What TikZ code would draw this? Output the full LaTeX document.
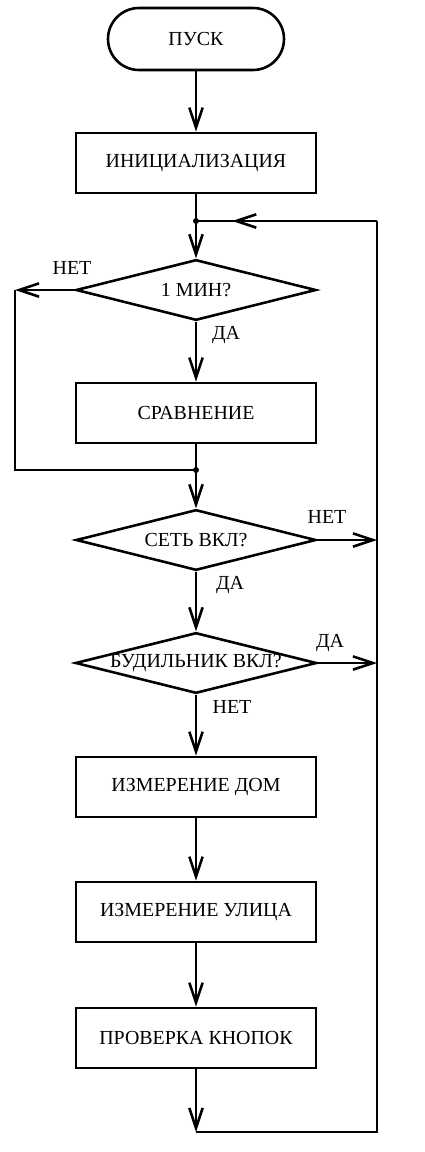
\documentclass[tikz,border=0pt]{standalone}
\usepackage{fontspec}
\setmainfont{Liberation Serif}
\usetikzlibrary{shapes.geometric,arrows.meta,decorations.markings}

\begin{document}
\begin{tikzpicture}[
            x=0.03cm, y=-0.03cm,
            line width=2.2pt,
            every node/.style={font=\fontsize{17}{20}\selectfont},
            block/.style={draw, rectangle, minimum width=7.2cm, minimum height=1.8cm, inner sep=0pt},
            term/.style={draw, rectangle, rounded corners=0.93cm, minimum width=5.28cm, minimum height=1.86cm},
            decide/.style={draw, diamond, aspect=4, minimum width=7.2cm, minimum height=1.82cm, inner sep=0pt},
            junc/.style={circle, fill, inner sep=0pt, minimum size=0.18cm},
            arrow/.style={-{Straight Barb[length=6mm, width=4mm]}},
            midarrow/.style={postaction={decorate}, decoration={markings,
                mark=at position 0.8 with {\arrow{Straight Barb[length=6mm, width=4mm]}}}}
        ]
        \useasboundingbox (0,0) rectangle (425,1152);

        % --- blocks ---
        \node[term] (start) at (196, 39) {ПУСК};
        \node[block] (init) at (196, 163) {ИНИЦИАЛИЗАЦИЯ};
        \node[junc] (j1) at (196, 221) {};
        \node[decide] (min) at (196, 290) {1 МИН?};
        \node[block] (cmp) at (196, 413) {СРАВНЕНИЕ};
        \node[junc] (j2) at (196, 470) {};
        \node[decide] (net) at (196, 540) {СЕТЬ ВКЛ?};
        \node[decide] (alarm) at (196, 663) {БУДИЛЬНИК ВКЛ?};
        \node[block] (home) at (196, 787) {ИЗМЕРЕНИЕ ДОМ};
        \node[block] (street) at (196, 912) {ИЗМЕРЕНИЕ УЛИЦА};
        \node[block] (keys) at (196, 1038) {ПРОВЕРКА КНОПОК};

        % --- bends ---
        \coordinate (lt) at (15, 290);
        \coordinate (lb) at (15, 470);
        \coordinate (rt) at (377, 221);
        \coordinate (rnet) at (377, 540);
        \coordinate (ralarm) at (377, 663);
        \coordinate (rb) at (377, 1132);
        \coordinate (bot) at (196, 1132);

        % --- main flow ---
        \draw[arrow] (start)--(init);
        \draw (init)--(j1.center);
        \draw[arrow] (j1.center)--(min);
        \draw[arrow] (min)--(cmp);
        \draw (cmp)--(j2.center);
        \draw[arrow] (j2.center)--(net);
        \draw[arrow] (net)--(alarm);
        \draw[arrow] (alarm)--(home);
        \draw[arrow] (home)--(street);
        \draw[arrow] (street)--(keys);
        \draw[arrow] (keys)--(bot);

        % --- loops ---
        \draw[arrow] (min.west)--(lt);
        \draw (lt)--(lb)--(j2.center);
        \draw[arrow] (net.east)--(rnet);
        \draw[arrow] (alarm.east)--(ralarm);
        \draw (bot)--(rb)--(rt);
        \draw[midarrow] (rt)--(j1.center);

        % --- labels ---
        \node (n1) at (72, 268) {НЕТ};
        \node (y1) at (226, 335) {ДА};
        \node (n2) at (327, 517) {НЕТ};
        \node (y2) at (230, 585) {ДА};
        \node (y3) at (330, 643) {ДА};
        \node (n3) at (232, 707) {НЕТ};
        \end{tikzpicture}
\end{document}
